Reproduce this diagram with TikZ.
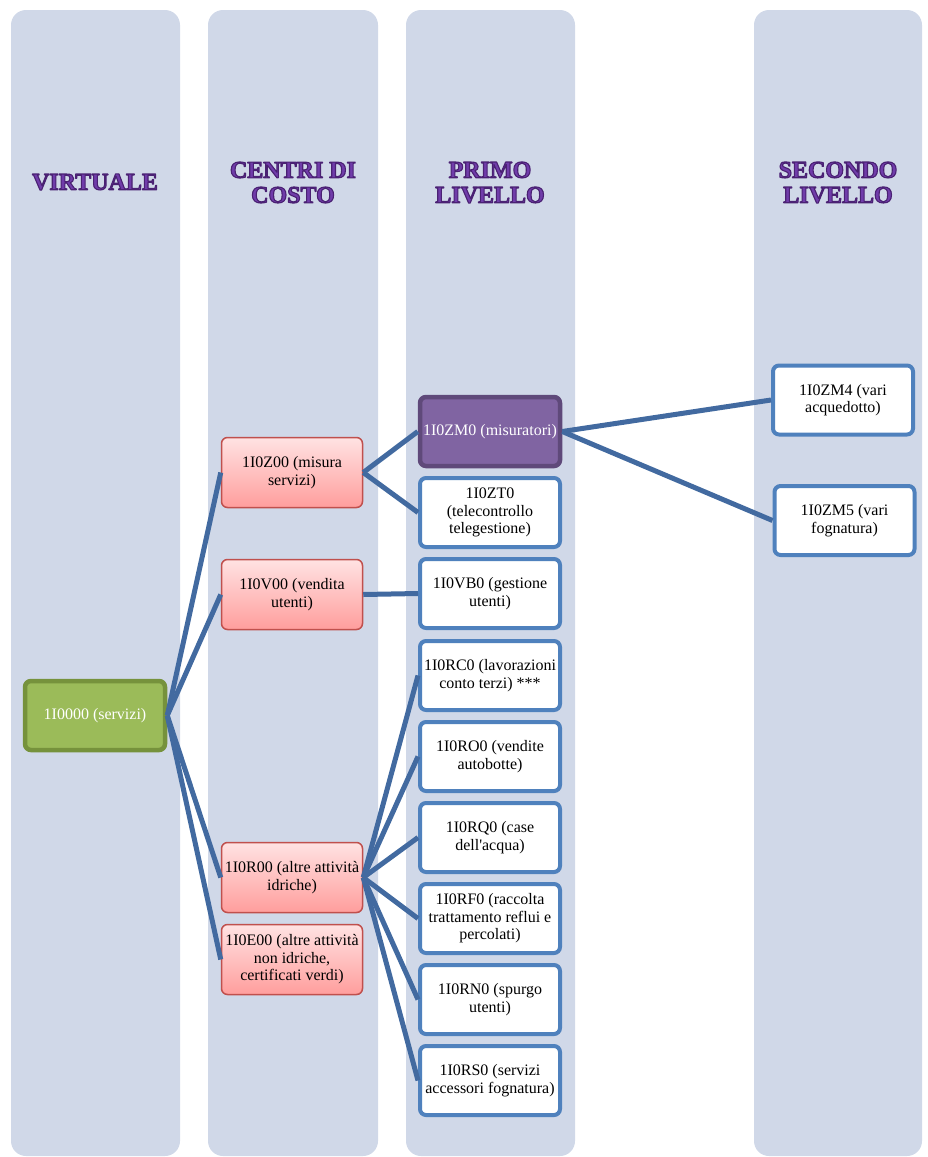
\documentclass[tikz,border=0pt]{standalone}
\usepackage{fontspec}
\setmainfont{Liberation Serif}
\definecolor{colfill}{RGB}{208,216,232}
\definecolor{headcol}{RGB}{112,60,170}
\definecolor{linkcol}{RGB}{66,106,160}
\definecolor{bluebrd}{RGB}{79,129,189}
\definecolor{pinkbrd}{RGB}{192,80,77}
\definecolor{pinktop}{RGB}{255,226,226}
\definecolor{pinkbot}{RGB}{255,158,156}
\definecolor{greenfill}{RGB}{155,187,89}
\definecolor{greenbrd}{RGB}{118,146,60}
\definecolor{purplefill}{RGB}{128,100,162}
\definecolor{purplebrd}{RGB}{95,73,122}
% straight apostrophe, bypassing the TeX quote mapping
\newcommand{\sq}{{\XeTeXglyph\XeTeXglyphindex "quotesingle"\relax}}
% letters filled and stroked with a dark purple edge
\newcommand{\edged}[1]{\special{pdf:literal direct 0.29 0.13 0.45 RG 1.1 w 1 j 2 Tr}#1\special{pdf:literal direct 0 Tr}}
\tikzset{
  column/.style={fill=colfill, draw=none, rounded corners=15pt},
  heading/.style={font=\fontsize{24}{25}\selectfont\bfseries, align=center, inner sep=0pt, text=headcol},
  box/.style={rounded corners=6pt, minimum width=140pt, minimum height=69pt, inner sep=2pt,
    align=center, font=\fontsize{16}{17.5}\selectfont},
  leafbox/.style={box, fill=white, draw=bluebrd, line width=4pt},
  costbox/.style={box, draw=pinkbrd, line width=1.5pt, top color=pinktop, bottom color=pinkbot,
    minimum width=141pt, minimum height=70pt},
  rootbox/.style={box, fill=greenfill, draw=greenbrd, line width=4.5pt, text=white},
  selbox/.style={box, fill=purplefill, draw=purplebrd, line width=4.5pt, text=white},
  link/.style={draw=linkcol, line width=5pt}
}
\begin{document}
\begin{tikzpicture}[x=1pt,y=-1pt]
\useasboundingbox (0,0) rectangle (928,1157);
% background columns
\fill[column] (11,10) rectangle (180,1156);
\fill[column] (208,10) rectangle (378,1156);
\fill[column] (406,10) rectangle (575,1156);
\fill[column] (754,10) rectangle (922,1156);
% column headings
\node[heading] (hv) at (95,182) {\edged{VIRTUALE}};
\node[heading] (hc) at (293,182.5) {\edged{CENTRI DI}\\\edged{COSTO}};
\node[heading] (hp) at (490,182.5) {\edged{PRIMO}\\\edged{LIVELLO}};
\node[heading] (hs) at (838,182.5) {\edged{SECONDO}\\\edged{LIVELLO}};
% nodes
\node[rootbox] (root) at (95,715.5) {1I0000 (servizi)};
\node[costbox] (z00) at (292,472.5) {1I0Z00 (misura\\servizi)};
\node[costbox] (v00) at (292,594.5) {1I0V00 (vendita\\utenti)};
\node[costbox] (r00) at (292,877.5) {1I0R00 (altre attività\\idriche)};
\node[costbox] (e00) at (292,959.5) {1I0E00 (altre attività\\non idriche,\\certificati verdi)};
\node[selbox] (zm0) at (490,431.5) {1I0ZM0 (misuratori)};
\node[leafbox] (zt0) at (490,512.5) {1I0ZT0\\(telecontrollo\\telegestione)};
\node[leafbox] (vb0) at (490,593.5) {1I0VB0 (gestione\\utenti)};
\node[leafbox] (rc0) at (490,675.5) {1I0RC0 (lavorazioni\\conto terzi) ***};
\node[leafbox] (ro0) at (490,756.5) {1I0RO0 (vendite\\autobotte)};
\node[leafbox] (rq0) at (490,837.5) {1I0RQ0 (case\\dell\sq acqua)};
\node[leafbox] (rf0) at (490,918.5) {1I0RF0 (raccolta\\trattamento reflui e\\percolati)};
\node[leafbox] (rn0) at (490,999.5) {1I0RN0 (spurgo\\utenti)};
\node[leafbox] (rs0) at (490,1080.5) {1I0RS0 (servizi\\accessori fognatura)};
\node[leafbox] (zm4) at (843,400) {1I0ZM4 (vari\\acquedotto)};
\node[leafbox] (zm5) at (844.5,520.5) {1I0ZM5 (vari\\fognatura)};
% connectors
\foreach \t in {z00,v00,r00,e00} \draw[link] (root.east) -- (\t.west);
\foreach \t in {zm0,zt0} \draw[link] (z00.east) -- (\t.west);
\draw[link] (v00.east) -- (vb0.west);
\foreach \t in {rc0,ro0,rq0,rf0,rn0,rs0} \draw[link] (r00.east) -- (\t.west);
\foreach \t in {zm4,zm5} \draw[link] (zm0.east) -- (\t.west);
\end{tikzpicture}
\end{document}
